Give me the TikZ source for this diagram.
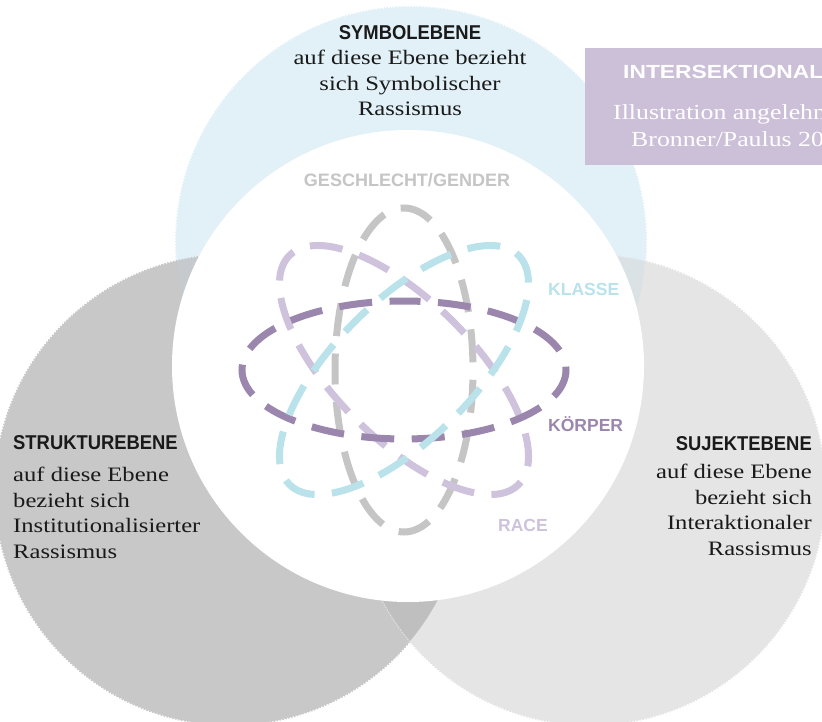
\documentclass[tikz,border=0pt]{standalone}
\usepackage{fontspec}
\setmainfont{Liberation Serif}[FakeStretch=1.2]
\newfontfamily\headfont{Liberation Sans}[FakeStretch=0.92]
\newfontfamily\tagfont{Liberation Sans}
\newfontfamily\titlefont{Liberation Sans}[FakeStretch=1.2]

% level circles
\definecolor{skyfill}{HTML}{E1F1F7}
\definecolor{structfill}{HTML}{C8C8C8}
\definecolor{subjfill}{HTML}{E5E5E5}
\definecolor{skystruct}{HTML}{C4CACD}
\definecolor{skysubj}{HTML}{DBE2E5}
\definecolor{structsubj}{HTML}{BFBFBF}
% dimension rings
\definecolor{gendercol}{HTML}{C5C5C5}
\definecolor{racecol}{HTML}{CEC2DC}
\definecolor{bodycol}{HTML}{9B87AD}
\definecolor{classcol}{HTML}{B9E2EB}
% title box and text
\definecolor{boxfill}{HTML}{CCC0D9}
\definecolor{inkcol}{HTML}{1A1A1A}

\tikzset{
  bodytext/.style={font=\fontsize{20.5}{25.5}\selectfont, text=inkcol, inner sep=0pt},
  headtext/.style={font=\headfont\bfseries\fontsize{20}{24}\selectfont, text=inkcol, inner sep=0pt},
  tagtext/.style={font=\tagfont\bfseries\fontsize{17.5}{21}\selectfont, inner sep=0pt},
  ring/.style={line width=7pt, dash pattern=on 33pt off 17.5pt, dash phase=16.5pt},
  rim/.style={line width=2pt, dash pattern=on 1.5pt off 1.5pt}
}

\begin{document}
\begin{tikzpicture}[x=1pt,y=-1pt]
\useasboundingbox (0,0) rectangle (822,722);
\clip (0,0) rectangle (822,722);

% the three levels
\coordinate (symc) at (411,242);
\coordinate (strc) at (230,490);
\coordinate (subc) at (590,490);
\fill[skyfill] (symc) circle[radius=235];
\draw[rim, skyfill] (symc) circle[radius=235];
\fill[structfill] (strc) circle[radius=235];
\draw[rim, structfill] (strc) circle[radius=235];
\fill[subjfill] (subc) circle[radius=235];
\draw[rim, subjfill] (subc) circle[radius=235];

% overlaps
\begin{scope}
  \clip (symc) circle[radius=235];
  \fill[skystruct] (strc) circle[radius=235];
\end{scope}
\begin{scope}
  \clip (symc) circle[radius=235];
  \fill[skysubj] (subc) circle[radius=235];
\end{scope}
\begin{scope}
  \clip (strc) circle[radius=235];
  \fill[structsubj] (subc) circle[radius=235];
\end{scope}

% white core
\coordinate (corec) at (408,366);
\fill[white] (corec) circle[radius=236];

% four dashed rings (rotation is counter-clockwise on the page)
\coordinate (ringc) at (404,370);
\begin{scope}[shift={(ringc)}, rotate=90]
  \draw[ring, gendercol] (0,-69) arc[start angle=270, end angle=630, x radius=162, y radius=69];
\end{scope}
\begin{scope}[shift={(ringc)}, rotate=-45]
  \draw[ring, racecol] (0,-69) arc[start angle=270, end angle=630, x radius=162, y radius=69];
\end{scope}
\begin{scope}[shift={(ringc)}]
  \draw[ring, bodycol] (0,-69) arc[start angle=270, end angle=630, x radius=162, y radius=69];
\end{scope}
\begin{scope}[shift={(ringc)}, rotate=45]
  \draw[ring, classcol] (0,-69) arc[start angle=270, end angle=630, x radius=162, y radius=69];
\end{scope}

% ring labels
\node[tagtext, text=gendercol, anchor=base, font=\tagfont\bfseries\fontsize{18}{21}\selectfont] (gender) at (407,187) {GESCHLECHT/GENDER};
\node[tagtext, text=classcol, anchor=base west] (klasse) at (548,295) {KLASSE};
\node[tagtext, text=bodycol, anchor=base west] (koerper) at (548,431) {KÖRPER};
\node[tagtext, text=racecol, anchor=base west] (race) at (498,531) {RACE};

% level texts (base anchor of a multi-line node sits on its last line)
\node[headtext, anchor=base] (symhead) at (410,40) {SYMBOLEBENE};
\node[bodytext, anchor=base, align=center] (symbody) at (410,116)
  {auf diese Ebene bezieht\\sich Symbolischer\\Rassismus};

\node[headtext, anchor=base west] (strhead) at (13,449) {STRUKTUREBENE};
\node[bodytext, anchor=base west, align=left] (strbody) at (13,558)
  {auf diese Ebene\\bezieht sich\\Institutionalisierter\\Rassismus};

\node[headtext, anchor=base east] (subhead) at (812,450) {SUJEKTEBENE};
\node[bodytext, anchor=base east, align=right] (subbody) at (812,555)
  {auf diese Ebene\\bezieht sich\\Interaktionaler\\Rassismus};

% title box
\fill[boxfill] (585,48) rectangle (830,165);
\node[inner sep=0pt, text=white, anchor=base west, font=\titlefont\bfseries\fontsize{19}{23}\selectfont] (boxtitle) at (623,79) {INTERSEKTIONALITÄT};
\node[bodytext, text=white, anchor=base west, font=\fontsize{21.5}{25.5}\selectfont] (boxline1) at (613,120) {Illustration angelehnt};
\node[bodytext, text=white, anchor=base west, font=\fontsize{21.5}{25.5}\selectfont] (boxline2) at (631,147) {Bronner/Paulus 20};
\end{tikzpicture}
\end{document}
